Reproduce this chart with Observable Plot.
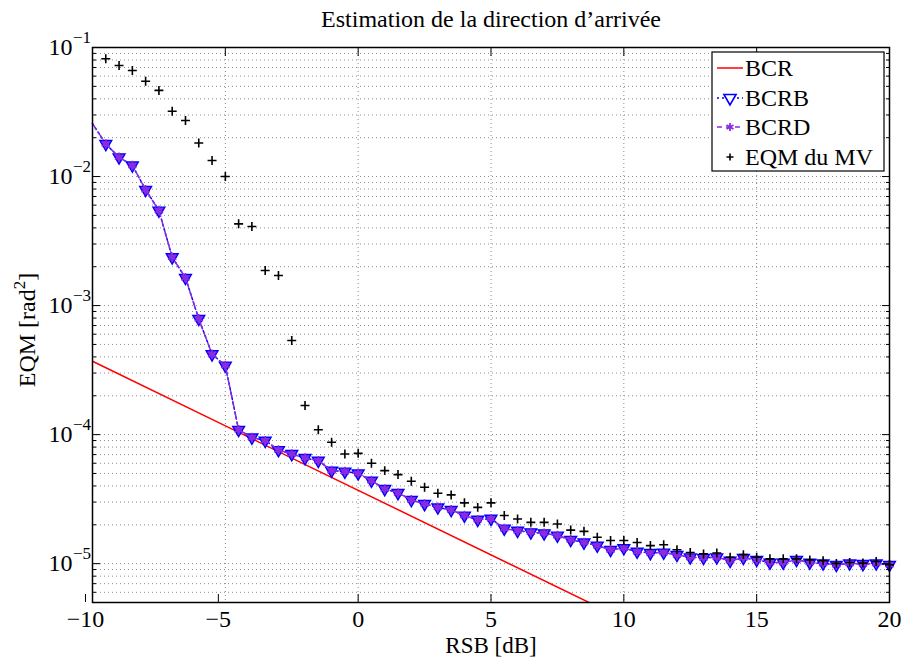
<!DOCTYPE html>
<html><head><meta charset="utf-8">
<script src="https://cdn.jsdelivr.net/npm/d3@7"></script>
<script src="https://cdn.jsdelivr.net/npm/@observablehq/plot@0.6"></script>
<style>html,body{margin:0;padding:0;background:#fff} svg{display:block}</style>
</head><body><div id="chart"></div>
<script>
// ---- data ----
const rsb = [-10,-9.5,-9,-8.5,-8,-7.5,-7,-6.5,-6,-5.5,-5,-4.5,-4,-3.5,-3,-2.5,-2,-1.5,-1,-0.5,0,0.5,1,1.5,2,2.5,3,3.5,4,4.5,5,5.5,6,6.5,7,7.5,8,8.5,9,9.5,10,10.5,11,11.5,12,12.5,13,13.5,14,14.5,15,15.5,16,16.5,17,17.5,18,18.5,19,19.5,20];
const bcrbValues = [0.0257,0.0179,0.0141,0.0122,0.0079,0.00545,0.00237,0.00164,0.00079,0.00042,0.000343,0.000109,9.5e-5,8.98e-5,7.6e-5,7.08e-5,6.59e-5,6.28e-5,5.26e-5,5.17e-5,5.01e-5,4.40e-5,3.79e-5,3.53e-5,3.12e-5,2.90e-5,2.73e-5,2.61e-5,2.36e-5,2.19e-5,2.23e-5,1.87e-5,1.80e-5,1.75e-5,1.72e-5,1.65e-5,1.53e-5,1.46e-5,1.38e-5,1.28e-5,1.32e-5,1.24e-5,1.21e-5,1.22e-5,1.17e-5,1.12e-5,1.11e-5,1.12e-5,1.055e-5,1.11e-5,1.07e-5,1.02e-5,1.02e-5,1.07e-5,1.02e-5,1.005e-5,9.8e-6,1.005e-5,9.95e-6,1.005e-5,9.8e-6];
const bcrdValues = [0.0257,0.0179,0.0141,0.0122,0.0079,0.00545,0.00237,0.00164,0.00079,0.00042,0.000343,0.000109,9.5e-5,8.98e-5,7.6e-5,7.08e-5,6.59e-5,6.28e-5,5.26e-5,5.17e-5,5.01e-5,4.40e-5,3.79e-5,3.53e-5,3.12e-5,2.90e-5,2.73e-5,2.61e-5,2.36e-5,2.19e-5,2.23e-5,1.87e-5,1.80e-5,1.75e-5,1.72e-5,1.65e-5,1.53e-5,1.46e-5,1.38e-5,1.28e-5,1.32e-5,1.24e-5,1.21e-5,1.22e-5,1.17e-5,1.12e-5,1.11e-5,1.12e-5,1.055e-5,1.11e-5,1.07e-5,1.02e-5,1.02e-5,1.07e-5,1.02e-5,1.005e-5,9.8e-6,1.005e-5,9.95e-6,1.005e-5,9.8e-6];
const eqmValues = [null,0.0818,0.0725,0.0664,0.0548,0.0465,0.0321,0.0272,0.0182,0.0133,0.0100,0.0043,0.0041,0.00187,0.00171,0.000536,0.000168,0.000109,8.72e-5,7.08e-5,7.16e-5,6.0e-5,5.26e-5,4.90e-5,4.35e-5,3.91e-5,3.51e-5,3.41e-5,2.96e-5,2.73e-5,2.96e-5,2.36e-5,2.22e-5,2.09e-5,2.09e-5,2.03e-5,1.82e-5,1.78e-5,1.60e-5,1.51e-5,1.51e-5,1.46e-5,1.38e-5,1.40e-5,1.28e-5,1.22e-5,1.19e-5,1.21e-5,1.12e-5,1.175e-5,1.12e-5,1.09e-5,1.09e-5,1.09e-5,1.07e-5,1.055e-5,1.005e-5,1.02e-5,1.01e-5,1.04e-5,9.8e-6];
const bcrX = [-10, 20];
const bcrValues = [3.7e-4, 3.7e-7];

const xTicks = [-10,-5,0,5,10,15,20];
const yMajor = [1e-5,1e-4,1e-3,1e-2,1e-1];
const yExponents = ["−5","−4","−3","−2","−1"];
const yMinor = [6e-6,7e-6,8e-6,9e-6,2e-5,3e-5,4e-5,5e-5,6e-5,7e-5,8e-5,9e-5,2e-4,3e-4,4e-4,5e-4,6e-4,7e-4,8e-4,9e-4,2e-3,3e-3,4e-3,5e-3,6e-3,7e-3,8e-3,9e-3,2e-2,3e-2,4e-2,5e-2,6e-2,7e-2,8e-2,9e-2];

const titleText = "Estimation de la direction d’arrivée";
const xLabel = "RSB [dB]";
const yLabelParts = ["EQM [rad", "2", "]"];
const legendLabels = ["BCR","BCRB","BCRD","EQM du MV"];

// ---- build ----
const rows = rsb.map((x, i) => ({x, bcrb: bcrbValues[i], bcrd: bcrdValues[i], eqm: eqmValues[i]}));
const markerRows = rows.filter(d => d.x > -10);
const eqmRows = rows.filter(d => d.eqm != null);
const bcrRows = bcrX.map((x, i) => ({x, y: bcrValues[i]}));

const RED = "#ff0000", BLUE = "#0000ff", PURPLE = "#8a2be2";
const FONT = "Liberation Serif";
const grid = {stroke: "#8c8c8c", strokeDasharray: "1,3", strokeWidth: 1};

const chart = Plot.plot({
  width: 904, height: 658,
  marginLeft: 92, marginRight: 15, marginTop: 47, marginBottom: 56,
  x: {domain: [-10, 20]},
  y: {type: "log", domain: [5e-6, 0.1]},
  style: {fontFamily: FONT, fontSize: "24px", background: "white", color: "black", overflow: "visible"},
  marks: [
    Plot.ruleY(yMinor, grid),
    Plot.ruleY(yMajor, grid),
    Plot.ruleX(xTicks, grid),
    Plot.line(bcrRows, {x: "x", y: "y", stroke: RED, strokeWidth: 1.5, clip: true}),
    Plot.line(rows, {x: "x", y: "bcrb", stroke: BLUE, strokeWidth: 1.5, strokeDasharray: "2,3"}),
    Plot.dot(markerRows, {x: "x", y: "bcrb", symbol: "triangle", rotate: 180, r: 4.4, stroke: BLUE, fill: PURPLE, strokeWidth: 1.4}),
    Plot.line(rows, {x: "x", y: "bcrd", stroke: PURPLE, strokeWidth: 1.5, strokeDasharray: "7,4"}),
    Plot.dot(markerRows, {x: "x", y: "bcrd", symbol: "asterisk", r: 4.5, stroke: PURPLE, strokeWidth: 1.6}),
    Plot.dot(eqmRows, {x: "x", y: "eqm", symbol: "plus", r: 3.0, stroke: "black", strokeWidth: 1.6}),
    Plot.frame({stroke: "black", strokeWidth: 1.5}),
    // ticks (inward) and labels
    Plot.axisX({ticks: xTicks.filter(d => d < 0), anchor: "bottom", tickSize: -8, tickPadding: 15, dx: -7, label: null, fontSize: 24}),
    Plot.axisX({ticks: xTicks.filter(d => d >= 0), anchor: "bottom", tickSize: -8, tickPadding: 15, label: null, fontSize: 24}),
    Plot.axisX({ticks: xTicks, anchor: "top", tickSize: -8, fill: "none", label: null}),
    Plot.axisY({ticks: yMajor, anchor: "left", tickSize: -8, fill: "none", label: null}),
    Plot.axisY({ticks: yMinor, anchor: "left", tickSize: -4, fill: "none", label: null}),
    Plot.axisY({ticks: yMajor, anchor: "right", tickSize: -8, fill: "none", label: null}),
    Plot.axisY({ticks: yMinor, anchor: "right", tickSize: -4, fill: "none", label: null}),
    Plot.text(yMajor, {y: d => d, frameAnchor: "left", text: () => "10", textAnchor: "end", dx: -20, lineAnchor: "middle", fontSize: 24}),
    Plot.text(yMajor, {y: d => d, frameAnchor: "left", text: (d, i) => yExponents[i], textAnchor: "start", dx: -19.5, dy: -10, lineAnchor: "middle", fontSize: 17}),
    Plot.text([titleText], {frameAnchor: "top", dy: -20.5, lineAnchor: "bottom", fontSize: 24}),
    Plot.text([xLabel], {frameAnchor: "bottom", dy: 50, lineAnchor: "bottom", fontSize: 23})
  ]
});
document.getElementById("chart").appendChild(chart);

const svg = d3.select(chart);

// ---- y label with superscript ----
const yl = svg.append("text")
  .attr("transform", "translate(35,330) rotate(-90)")
  .attr("text-anchor", "middle").attr("font-family", FONT).attr("font-size", 24).attr("fill", "black");
yl.append("tspan").text(yLabelParts[0]);
yl.append("tspan").attr("font-size", 17).attr("dy", -10).text(yLabelParts[1]);
yl.append("tspan").attr("dy", 10).text(yLabelParts[2]);

// ---- legend ----
const lg = svg.append("g").attr("transform", "translate(712,52)");
lg.append("rect").attr("width", 172).attr("height", 119).attr("fill", "white").attr("stroke", "black").attr("stroke-width", 1.2);
const rowY = [16, 46, 75, 105];
const sym = (type, r) => d3.symbol(type, Math.PI * r * r)();
legendLabels.forEach((lab, i) => {
  const g = lg.append("g").attr("transform", `translate(0,${rowY[i]})`);
  if (i === 0) g.append("line").attr("x1", 5).attr("x2", 31).attr("stroke", RED).attr("stroke-width", 1.5);
  if (i === 1) {
    g.append("line").attr("x1", 5).attr("x2", 31).attr("stroke", BLUE).attr("stroke-width", 1.5).attr("stroke-dasharray", "2,3");
    g.append("path").attr("d", sym(d3.symbolTriangle, 4.5)).attr("transform", "translate(18,0) rotate(180)").attr("fill", "white").attr("stroke", BLUE).attr("stroke-width", 1.6);
  }
  if (i === 2) {
    g.append("line").attr("x1", 5).attr("x2", 31).attr("stroke", PURPLE).attr("stroke-width", 1.5).attr("stroke-dasharray", "5,4");
    g.append("path").attr("d", sym(d3.symbolAsterisk, 3.8)).attr("transform", "translate(18,0)").attr("fill", "none").attr("stroke", PURPLE).attr("stroke-width", 1.8);
  }
  if (i === 3) g.append("path").attr("d", sym(d3.symbolPlus, 2.4)).attr("transform", "translate(18,0)").attr("fill", "none").attr("stroke", "black").attr("stroke-width", 1.6);
  g.append("text").attr("x", 33).attr("dy", "0.32em").attr("fill", "black")
    .attr("font-family", FONT).attr("font-size", 24).attr("text-anchor", "start").text(lab);
});
</script>
</body></html>
